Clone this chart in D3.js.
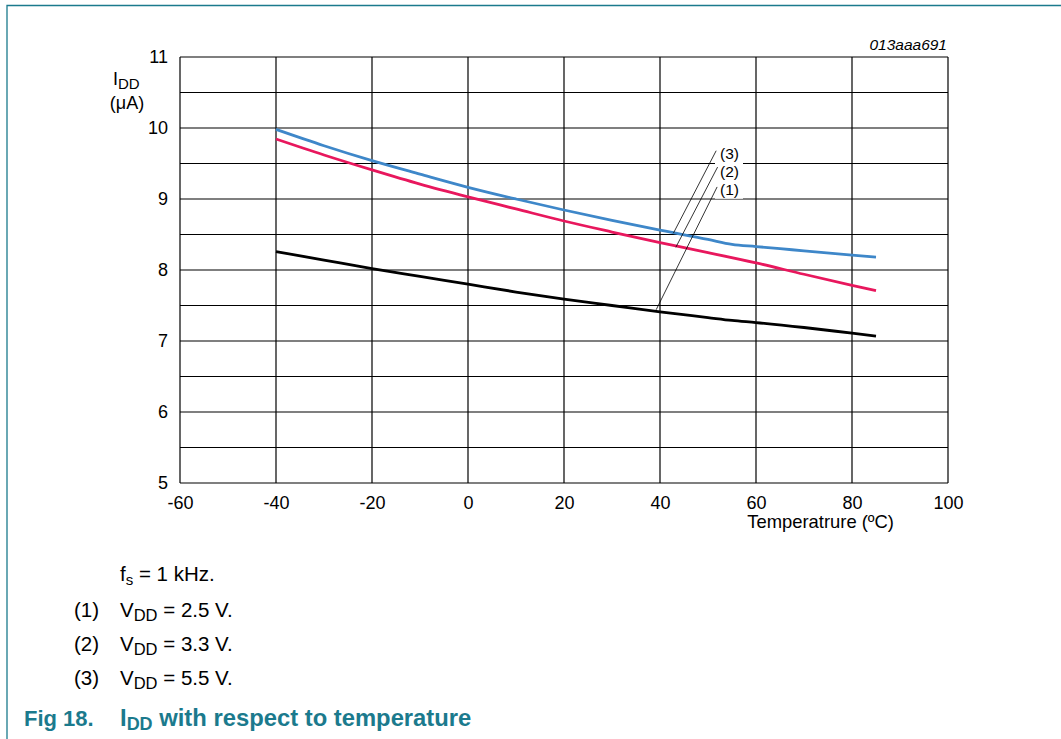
<!DOCTYPE html>
<html><head><meta charset="utf-8">
<script src="https://cdn.jsdelivr.net/npm/d3@7"></script>
<style>
html,body{margin:0;padding:0;background:#fff;}
svg{display:block;font-family:Arial,"Liberation Sans",sans-serif;}
</style></head>
<body>
<svg id="chart" width="1061" height="739"></svg>
<script>
// ---- data ----
const temps1 = [-40,-30,-20,-10,0,10,20,30,40,50,55,60,70,80,85];
const idd1   = [8.26,8.14,8.02,7.91,7.80,7.69,7.59,7.50,7.41,7.33,7.29,7.26,7.19,7.11,7.07]; // VDD 2.5 V
const temps2 = [-40,-30,-20,-10,0,10,20,30,40,50,60,70,80,85];
const idd2   = [9.845,9.62,9.41,9.21,9.03,8.86,8.69,8.535,8.385,8.245,8.10,7.94,7.785,7.71]; // VDD 3.3 V
const temps3 = [-40,-30,-20,-10,0,10,20,30,40,50,55,60,65,70,80,85];
const idd3   = [9.98,9.75,9.54,9.35,9.165,9.0,8.845,8.70,8.56,8.43,8.36,8.33,8.30,8.27,8.21,8.18]; // VDD 5.5 V
const xTicks = [-60,-40,-20,0,20,40,60,80,100];
const yTicks = [5,6,7,8,9,10,11];
const yGrid  = [5,5.5,6,6.5,7,7.5,8,8.5,9,9.5,10,10.5,11];
const seriesNames = ["(1)","(2)","(3)"];
const labelPos = [[52.5,9.13],[52.5,9.39],[52.5,9.64]];     // label anchor (temp, value)
const leaderStart = [[51.9,9.17],[52.0,9.45],[51.7,9.68]];
const leaderEnd   = [[39.2,7.44],[43.3,8.32],[42.8,8.52]];
const notes = [["(1)","2.5"],["(2)","3.3"],["(3)","5.5"]];

const teal = "#1b7a8d";
const colors = ["#000000","#e8175d","#3e87c9"];

const svg = d3.select("#chart");
const x = d3.scaleLinear().domain([-60,100]).range([180,948]);
const y = d3.scaleLinear().domain([5,11]).range([483,57]);

// frame
svg.append("path").attr("d","M7,739 L7,5.5 L1061,5.5").attr("fill","none").attr("stroke",teal).attr("stroke-width",1.3);

// grid
const g = svg.append("g");
g.selectAll("line.v").data(xTicks).join("line")
  .attr("x1",d=>x(d)).attr("x2",d=>x(d)).attr("y1",y(5)).attr("y2",y(11))
  .attr("stroke","#000").attr("stroke-width",1.2);
g.selectAll("line.h").data(yGrid).join("line")
  .attr("y1",d=>y(d)).attr("y2",d=>y(d)).attr("x1",x(-60)).attr("x2",x(100))
  .attr("stroke","#000").attr("stroke-width",1.2);

// axes labels via d3 axes (no domain/ticks lines)
const fmt = d => String(d);
const xAxis = svg.append("g").attr("transform",`translate(0,${y(5)})`)
  .call(d3.axisBottom(x).tickValues(xTicks).tickSize(0).tickPadding(13).tickFormat(fmt));
xAxis.select(".domain").remove();
xAxis.selectAll("text").attr("font-size",18).attr("fill","#000").attr("font-family","Arial,'Liberation Sans',sans-serif");
const yAxis = svg.append("g").attr("transform",`translate(${x(-60)},0)`)
  .call(d3.axisLeft(y).tickValues(yTicks).tickSize(0).tickPadding(12).tickFormat(fmt));
yAxis.select(".domain").remove();
yAxis.selectAll("text").attr("font-size",18).attr("fill","#000").attr("font-family","Arial,'Liberation Sans',sans-serif");

// axis titles
const yt = svg.append("text").attr("x",113).attr("y",85).attr("font-size",18);
yt.append("tspan").text("I");
yt.append("tspan").attr("dy",4).attr("font-size",15).text("DD");
svg.append("text").attr("x",127).attr("y",109).attr("font-size",18).attr("text-anchor","middle").text("(μA)");
svg.append("text").attr("x",894).attr("y",528).attr("font-size",18.4).attr("text-anchor","end").text("Temperatrure (ºC)");
svg.append("text").attr("x",947).attr("y",50).attr("font-size",15.5).attr("font-style","italic").attr("text-anchor","end").text("013aaa691");

// curves
const line = d3.line().x(d=>x(d[0])).y(d=>y(d[1])).curve(d3.curveMonotoneX);
const series = [d3.zip(temps1,idd1), d3.zip(temps2,idd2), d3.zip(temps3,idd3)];
series.forEach((s,i)=>{
  svg.append("path").attr("d",line(s)).attr("fill","none").attr("stroke",colors[i]).attr("stroke-width",2.8);
});

// leader labels
labelPos.forEach((p,i)=>{
  svg.append("rect").attr("x",x(p[0])-5).attr("y",y(p[1])-9).attr("width",28).attr("height",18).attr("fill","#fff");
});
leaderStart.forEach((s,i)=>{
  svg.append("line").attr("x1",x(s[0])).attr("y1",y(s[1])).attr("x2",x(leaderEnd[i][0])).attr("y2",y(leaderEnd[i][1]))
    .attr("stroke","#000").attr("stroke-width",0.8);
});
labelPos.forEach((p,i)=>{
  svg.append("text").attr("x",x(p[0])).attr("y",y(p[1])).attr("dy","0.35em").attr("font-size",15.5).text(seriesNames[i]);
});

// notes
const fs = svg.append("text").attr("x",120).attr("y",581).attr("font-size",20.5);
fs.append("tspan").text("f");
fs.append("tspan").attr("dy",4).attr("font-size",15).text("s");
fs.append("tspan").attr("dy",-4).text(" = 1 kHz.");
notes.forEach((n,i)=>{
  const yy = 617 + i*34;
  svg.append("text").attr("x",74).attr("y",yy).attr("font-size",20.5).text(n[0]);
  const t = svg.append("text").attr("x",120).attr("y",yy).attr("font-size",20.5);
  t.append("tspan").text("V");
  t.append("tspan").attr("dy",4).attr("font-size",16.5).text("DD");
  t.append("tspan").attr("dy",-4).text(` = ${n[1]} V.`);
});

// caption
svg.append("text").attr("x",24).attr("y",726).attr("font-size",22).attr("font-weight","bold").attr("fill",teal).text("Fig 18.");
const cap = svg.append("text").attr("x",120).attr("y",726).attr("font-size",23.8).attr("font-weight","bold").attr("fill",teal);
cap.append("tspan").text("I");
cap.append("tspan").attr("dy",4).attr("font-size",18).text("DD");
cap.append("tspan").attr("dy",-4).text(" with respect to temperature");
</script>
</body></html>
